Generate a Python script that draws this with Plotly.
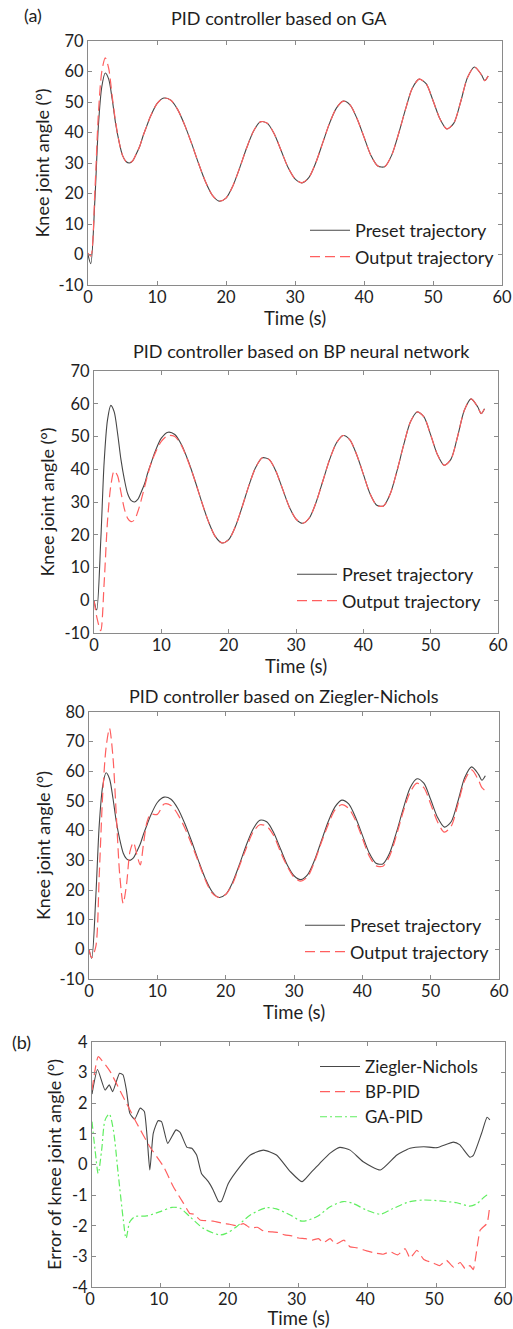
import plotly.graph_objects as go

# ---------------- data ----------------
T = [0, 0.4, 1, 1.5, 2, 2.5, 3, 3.5, 4, 4.5, 5, 5.5, 6, 6.5, 7, 7.5, 8, 8.5, 9,
     10, 11, 12, 13, 14, 15, 16, 17, 18, 19, 20, 21, 22, 23, 24, 25, 26, 27, 28, 29,
     30, 31, 32, 33, 34, 35, 36, 37, 38, 39, 40, 41, 42, 43, 44, 45, 46, 47, 48, 49,
     50, 51, 52, 53, 54, 55, 56, 57, 57.5, 58]

preset = [0, -3, 18, 42, 55, 59.5, 57.5, 51, 43, 37, 32.5, 30.5, 30, 30.8, 33, 35.5, 39, 42, 45,
          49.5, 51.3, 50.6, 47.5, 42.5, 36.5, 30, 24, 19.5, 17.5, 18.5, 22.5, 28.5, 35, 40.5, 43.5,
          43, 39.5, 34, 28.5, 24.8, 23.5, 25.2, 30, 36.5, 43, 48, 50.3, 49, 44.5, 38.5, 32.5, 29,
          28.8, 32.5, 39.5, 47.5, 54.5, 57.5, 56, 50.5, 44.5, 41.2, 43, 50, 58, 61.5, 59, 57, 58.5]

ga_out = [0.5, -0.5, 21, 46, 60, 64.5, 61, 52, 43.5, 37, 32.5, 30.5, 30, 30.8, 33, 35.5, 39, 42, 45,
          49.5, 51.3, 50.6, 47.5, 42.5, 36.5, 30, 24, 19.5, 17.5, 18.5, 22.5, 28.5, 35, 40.5, 43.5,
          43, 39.5, 34, 28.5, 24.8, 23.5, 25.2, 30, 36.5, 43, 48, 50.3, 49, 44.5, 38.5, 32.5, 29,
          28.8, 32.5, 39.5, 47.5, 54.5, 57.5, 56, 50.5, 44.5, 41.2, 43, 50, 58, 61.5, 59, 57, 58.5]

bp_out = [0, -5, -9.3, 5, 24, 35, 39.5, 38, 33, 28, 25, 24, 24.5, 27, 30.5, 34.5, 38.5, 42, 44.5,
          48.5, 50.3, 50, 47.2, 42.3, 36.5, 30, 24, 19.5, 17.5, 18.5, 22.5, 28.5, 35, 40.5, 43.5,
          43, 39.5, 34, 28.5, 24.8, 23.5, 25.2, 30, 36.5, 43, 48, 50.3, 49, 44.5, 38.5, 32.5, 29,
          28.8, 32.5, 39.5, 47.5, 54.5, 57.5, 56, 50.5, 44.5, 41.2, 43, 50, 58, 61.5, 59, 57, 58.5]

zn_out = [0, -2.8, 1, 25, 52, 68, 74.5, 65, 45, 25, 15.5, 22, 33, 36, 32, 28.5, 36, 43, 45.5,
          45.5, 49, 48.5, 45.5, 41, 35.5, 29.5, 23.5, 19, 17.5, 18.5, 22, 28, 34, 39.5, 42,
          41.5, 38.5, 33, 28, 24.3, 23, 24.5, 29.5, 36, 42, 47, 48.8, 47.5, 43.5, 37.5, 31.5, 28.2,
          28, 31.5, 38.5, 46.5, 53, 56, 54.5, 49, 43, 39.5, 41.5, 49, 57, 60.5, 57, 54.5, 53.5]

zn_t = [0, 0.8, 1.9, 2.5, 3, 4, 4.5, 5, 5.5, 6.2, 7, 7.6, 8.4, 8.9, 9.6, 10.1, 11, 12.2, 12.8, 13.8,
        14.5, 15.2, 15.9, 16.9, 17.6, 18.4, 18.8, 19.8, 21.5, 23, 24.9, 26.8, 28.8, 30.5, 31.7, 33.1,
        34.6, 36, 37.5, 39.4, 41.9, 44.3, 46.2, 48.2, 50.1, 52.5, 53.4, 54.9, 55.4, 56.6, 57.4, 57.8]
zn_err = [2.3, 3.1, 2.43, 2.6, 2.38, 2.98, 2.93, 2.43, 1.67, 1.48, 1.84, 1.73, -0.18, 1.02, 1.43, 1.4,
          0.69, 1.13, 1.05, 0.56, 0.53, 0.31, -0.29, -0.56, -0.83, -1.21, -1.2, -0.62, -0.07, 0.31,
          0.47, 0.31, -0.23, -0.56, -0.29, 0.04, 0.37, 0.56, 0.47, 0.09, -0.18, 0.31, 0.53, 0.58,
          0.55, 0.73, 0.65, 0.24, 0.3, 1.02, 1.54, 1.46]

bp_t = [0, 0.9, 2.6, 4.5, 6.5, 8.4, 10.4, 11.8, 13.3, 14.2, 14.8, 15.7, 17.6, 19, 20, 21, 22, 23, 24,
        25, 26, 27, 28, 29, 30, 31, 32, 32.9, 33.6, 34.6, 35.4, 36.6, 37.5, 38.5, 39.9, 41.3, 42.3,
        43.3, 44.4, 45.5, 46.2, 47.2, 48.2, 49.6, 50.5, 51.5, 52.5, 53.5, 54.2, 54.9, 55.4, 56.4,
        57.4, 57.8]
bp_err = [2.43, 3.52, 3.05, 2.22, 1.35, 0.58, -0.07, -0.72, -1.27, -1.6, -1.62, -1.81, -1.85, -1.92,
          -1.95, -2.0, -1.93, -2.07, -2.05, -2.18, -2.2, -2.22, -2.3, -2.33, -2.4, -2.42, -2.47,
          -2.42, -2.55, -2.42, -2.6, -2.47, -2.69, -2.72, -2.82, -2.9, -2.93, -2.85, -2.95, -2.75,
          -3.06, -2.8, -3.1, -3.22, -3.3, -3.13, -3.35, -3.2, -3.4, -3.3, -3.43, -2.14, -1.92, -1.32]

ga_t = [0, 0.45, 0.9, 1.4, 1.9, 2.5, 3.1, 3.8, 4.55, 4.95, 5.5, 6.25, 7.9, 9.9, 11.6, 12.8, 14.2,
        16.2, 18.6, 19.5, 21, 23, 25.4, 26.8, 28.8, 30.5, 32.7, 34.6, 36.5, 37.9, 39.9, 41.9, 43.8,
        46.2, 48.2, 50.6, 53, 54.9, 55.9, 57.4, 57.8]
ga_err = [1.4, 0.47, -0.29, 0.47, 1.45, 1.65, 1.13, -0.29, -1.81, -2.41, -1.87, -1.7, -1.68, -1.54,
          -1.4, -1.43, -1.7, -2.09, -2.3, -2.25, -2.03, -1.65, -1.41, -1.45, -1.65, -1.85, -1.7,
          -1.38, -1.21, -1.27, -1.49, -1.62, -1.43, -1.21, -1.16, -1.19, -1.25, -1.36, -1.28,
          -1.0, -1.05]

titles = ["PID controller based on GA", "PID controller based on BP neural network",
          "PID controller based on Ziegler-Nichols"]
panel_labels = ["(a)", "(b)"]
x_ticks = [0, 10, 20, 30, 40, 50, 60]
y_ticks_angle = [-10, 0, 10, 20, 30, 40, 50, 60, 70]
y_ticks_angle3 = [-10, 0, 10, 20, 30, 40, 50, 60, 70, 80]
y_ticks_err = [-4, -3, -2, -1, 0, 1, 2, 3, 4]

# ---------------- style ----------------
W, H = 513, 1329
FONT = "Lato"
TXT = "#1e1e1e"
BLACK = "#474747"
RED = "#ff5f5f"
GREEN = "#60ee60"
AXC = "#8a8a8a"


def px_x(p):
    return p / W


def px_y(p):
    return 1 - p / H


fig = go.Figure()

outputs = [ga_out, bp_out, zn_out]
for i, out in enumerate(outputs):
    n = i + 1
    sfx = "" if n == 1 else str(n)
    lg = "legend" if n == 1 else "legend" + str(n)
    fig.add_trace(go.Scatter(x=T, y=preset, mode="lines", name="Preset trajectory",
                             line=dict(color=BLACK, width=1.1, shape="spline", smoothing=0.8),
                             xaxis="x" + sfx, yaxis="y" + sfx, legend=lg))
    fig.add_trace(go.Scatter(x=T, y=out, mode="lines", name="Output trajectory",
                             line=dict(color=RED, width=1.2, dash="10px,5px", shape="spline", smoothing=0.8),
                             xaxis="x" + sfx, yaxis="y" + sfx, legend=lg))

fig.add_trace(go.Scatter(x=zn_t, y=zn_err, mode="lines", name="Ziegler-Nichols",
                         line=dict(color=BLACK, width=1.1, shape="spline", smoothing=0.5),
                         xaxis="x4", yaxis="y4", legend="legend4"))
fig.add_trace(go.Scatter(x=bp_t, y=bp_err, mode="lines", name="BP-PID",
                         line=dict(color=RED, width=1.2, dash="10px,5px", shape="spline", smoothing=0.4),
                         xaxis="x4", yaxis="y4", legend="legend4"))
fig.add_trace(go.Scatter(x=ga_t, y=ga_err, mode="lines", name="GA-PID",
                         line=dict(color=GREEN, width=1.2, dash="7px,3px,2px,3px", shape="spline", smoothing=0.8),
                         xaxis="x4", yaxis="y4", legend="legend4"))

# axes boxes (pixel positions from the reference)
boxes = [
    (88, 502, 41, 285, [-10, 70], y_ticks_angle, "Knee joint angle (°)", 4, 0),
    (94, 498, 371, 633, [-10, 70], y_ticks_angle, "Knee joint angle (°)", 5, 0),
    (89, 499, 712, 979, [-10, 80], y_ticks_angle3, "Knee joint angle (°)", 4, 0),
    (92, 505, 1042, 1287, [-4, 4], y_ticks_err, "Error of knee joint angle (°)", 5, -2),
]

layout = dict(width=W, height=H, margin=dict(l=0, r=0, t=0, b=0),
              paper_bgcolor="white", plot_bgcolor="white",
              font=dict(family=FONT, size=17, color=TXT))

for i, (x0, x1, y0, y1, yr, yt, ytitle, ystand, xshift) in enumerate(boxes):
    n = i + 1
    sfx = "" if n == 1 else str(n)
    common = dict(showline=True, linecolor=AXC, linewidth=1, mirror="ticks",
                  ticks="inside", ticklen=4, tickcolor=AXC, showgrid=False, zeroline=False,
                  tickfont=dict(family=FONT, size=16.5, color=TXT), automargin=False)
    layout["xaxis" + sfx] = dict(domain=[px_x(x0), px_x(x1)], range=[0, 60],
                                 tickmode="array", tickvals=x_ticks,
                                 ticktext=[str(v) for v in x_ticks],
                                 ticklabelstandoff=-3, ticklabelshift=xshift,
                                 ticklabeloverflow="allow",
                                 anchor="y" + sfx,
                                 title=dict(text="Time (s)", standoff=3,
                                            font=dict(family=FONT, size=18.5, color=TXT)),
                                 **common)
    layout["yaxis" + sfx] = dict(domain=[px_y(y1), px_y(y0)], range=yr,
                                 tickmode="array", tickvals=yt,
                                 ticktext=[str(v) for v in yt],
                                 anchor="x" + sfx,
                                 title=dict(text=ytitle, standoff=ystand,
                                            font=dict(family=FONT, size=18, color=TXT)),
                                 **common)

leg_common = dict(bgcolor="rgba(0,0,0,0)", xanchor="left", yanchor="top",
                  itemwidth=40, tracegroupgap=0)
layout["legend"] = dict(x=px_x(305), y=px_y(212), font=dict(family=FONT, size=18, color=TXT), **leg_common)
layout["legend2"] = dict(x=px_x(292), y=px_y(556), font=dict(family=FONT, size=18, color=TXT), **leg_common)
layout["legend3"] = dict(x=px_x(300), y=px_y(907), font=dict(family=FONT, size=18, color=TXT), **leg_common)
layout["legend4"] = dict(x=px_x(315), y=px_y(1049), font=dict(family=FONT, size=17, color=TXT), **leg_common)

annots = [
    dict(text=titles[0], x=px_x(279), y=px_y(18)),
    dict(text=titles[1], x=px_x(301), y=px_y(351)),
    dict(text=titles[2], x=px_x(284), y=px_y(696)),
    dict(text=panel_labels[0], x=px_x(33), y=px_y(15)),
    dict(text=panel_labels[1], x=px_x(21), y=px_y(1042)),
]
layout["annotations"] = [dict(xref="paper", yref="paper", showarrow=False, xanchor="center",
                              yanchor="middle", font=dict(family=FONT, size=18, color=TXT), **a)
                         for a in annots]

fig.update_layout(**layout)
fig.write_html("out.html", config={"displayModeBar": False},
               post_script="document.body.style.margin='0';")
